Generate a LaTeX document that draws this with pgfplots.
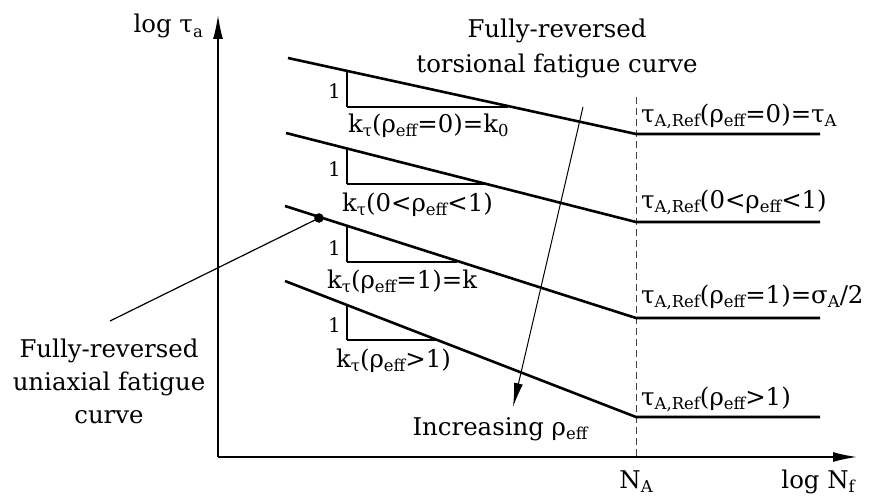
\documentclass[border=0pt]{standalone}
\usepackage{fontspec}
\setmainfont{DejaVu Serif}
\usepackage{pgfplots}
\pgfplotsset{compat=1.18}
\usetikzlibrary{arrows.meta}
\newcommand\sub[1]{\raisebox{-0.35ex}{\fontsize{16.5}{16.5}\selectfont #1}}
\begin{document}
\fontsize{24.5}{29}\selectfont
\begin{tikzpicture}[font=\fontsize{24.5}{29}\selectfont]
\begin{axis}[hide axis, scale only axis, width=869bp, height=497bp,
  xmin=0, xmax=869, ymin=0, ymax=497, y dir=reverse, clip=false]
% invisible frame
\addplot[draw=none, forget plot] coordinates {(0,0) (869,497)};
% axes
\addplot[line width=1.6bp, -{Latex[length=24bp,width=10bp]}] coordinates {(218,457) (218,15)};
\addplot[line width=1.6bp, -{Latex[length=24bp,width=10bp]}] coordinates {(218,457) (857,457)};
% dashed N_A
\addplot[line width=1bp, dash pattern=on 7bp off 4bp, black!75] coordinates {(636,97) (636,457)};
% fatigue curves
\addplot[line width=2.6bp, line join=miter] coordinates {(288,58) (636,134) (820,134)};
\addplot[line width=2.6bp, line join=miter] coordinates {(286,133) (636,222) (820,222)};
\addplot[line width=2.6bp, line join=miter] coordinates {(285,206) (636,318) (820,318)};
\addplot[line width=2.6bp, line join=miter] coordinates {(285,281) (636,417) (820,417)};
% slope triangles
\addplot[line width=1.2bp] coordinates {(347,71) (347,107)};
\addplot[line width=2.2bp] coordinates {(347,107) (508,107)};
\addplot[line width=1.2bp] coordinates {(347,148) (347,184)};
\addplot[line width=2.2bp] coordinates {(347,184) (487,184)};
\addplot[line width=1.2bp] coordinates {(347,226) (347,262)};
\addplot[line width=2.2bp] coordinates {(347,262) (457,262)};
\addplot[line width=1.2bp] coordinates {(347,305) (347,340)};
\addplot[line width=2.2bp] coordinates {(347,340) (438,340)};
% increasing arrow
\addplot[line width=1bp, -{Latex[length=24bp,width=9bp]}] coordinates {(583,107) (513,407)};
% uniaxial leader and dot
\addplot[line width=1.2bp] coordinates {(110,321) (319,218)};
\addplot[only marks, mark=*, mark size=4.5bp] coordinates {(319,218)};
% texts
\node[anchor=base east, inner sep=0pt] at (axis cs:203,33) {log τ\sub{a}};
\node[anchor=base east, inner sep=0pt] at (axis cs:855,488) {log N\sub{f}};
\node[anchor=base, inner sep=0pt] at (axis cs:636,488) {N\sub{A}};
\node[anchor=base, inner sep=0pt] at (axis cs:557,38) {Fully-reversed};
\node[anchor=base, inner sep=0pt] at (axis cs:557,73) {torsional fatigue curve};
\node[anchor=base, inner sep=0pt] at (axis cs:500,435) {Increasing ρ\sub{eff}};
\node[anchor=base, inner sep=0pt] at (axis cs:109,357) {Fully-reversed};
\node[anchor=base, inner sep=0pt] at (axis cs:109,390) {uniaxial fatigue};
\node[anchor=base, inner sep=0pt] at (axis cs:109,423) {curve};
\node[anchor=base east, inner sep=0pt, font=\fontsize{20}{24}\selectfont] at (axis cs:341,98) {1};
\node[anchor=base east, inner sep=0pt, font=\fontsize{20}{24}\selectfont] at (axis cs:341,176) {1};
\node[anchor=base east, inner sep=0pt, font=\fontsize{20}{24}\selectfont] at (axis cs:341,255) {1};
\node[anchor=base east, inner sep=0pt, font=\fontsize{20}{24}\selectfont] at (axis cs:341,332) {1};
\node[anchor=base west, inner sep=0pt] at (axis cs:348,132) {k\sub{τ}(ρ\sub{eff}=0)=k\sub{0}};
\node[anchor=base west, inner sep=0pt] at (axis cs:342,211) {k\sub{τ}(0<ρ\sub{eff}<1)};
\node[anchor=base west, inner sep=0pt] at (axis cs:327,288) {k\sub{τ}(ρ\sub{eff}=1)=k};
\node[anchor=base west, inner sep=0pt] at (axis cs:336,367) {k\sub{τ}(ρ\sub{eff}>1)};
\node[anchor=base west, inner sep=0pt] at (axis cs:641,122) {τ\sub{A,Ref}(ρ\sub{eff}=0)=τ\sub{A}};
\node[anchor=base west, inner sep=0pt] at (axis cs:641,208) {τ\sub{A,Ref}(0<ρ\sub{eff}<1)};
\node[anchor=base west, inner sep=0pt] at (axis cs:641,303) {τ\sub{A,Ref}(ρ\sub{eff}=1)=σ\sub{A}/2};
\node[anchor=base west, inner sep=0pt] at (axis cs:641,405) {τ\sub{A,Ref}(ρ\sub{eff}>1)};
\end{axis}
\end{tikzpicture}
\end{document}
